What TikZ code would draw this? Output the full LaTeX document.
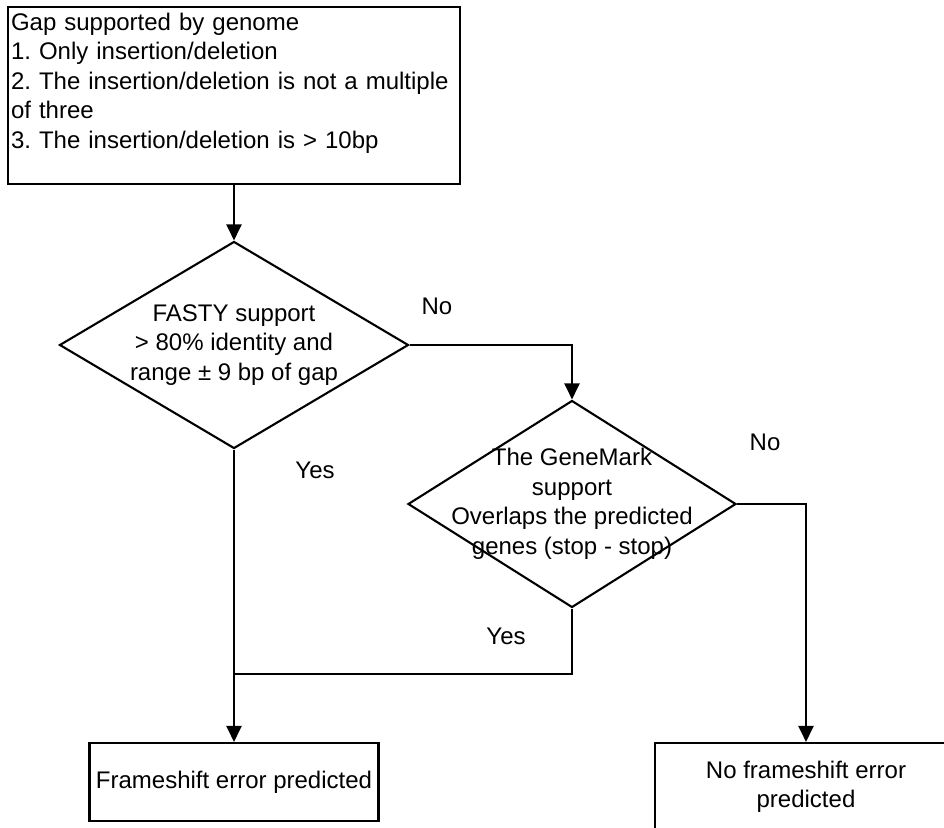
\documentclass[tikz,border=0pt]{standalone}
\usepackage{fontspec}
\setmainfont{Liberation Sans}
\frenchspacing
\usetikzlibrary{shapes.geometric,arrows.meta}
\tikzset{
	txt/.style={font=\fontsize{24}{29.5}\selectfont},
	block/.style={draw,txt,line width=2.1pt,inner sep=2pt},
	decision/.style={draw,diamond,line width=2.1pt,inner sep=0pt},
	link/.style={line width=2.1pt},
	arrow/.style={link,-{Triangle[length=16pt,width=15pt]}}
}
\begin{document}
\begin{tikzpicture}[x=1pt,y=-1pt]
	\useasboundingbox (0,0) rectangle (944,827);
	\clip (0,0) rectangle (944,827);
	% Boxes
	\node[block,minimum width=452pt,minimum height=177pt,text width=446pt,align=left] (gap) at (234,95.5) {Gap supported by genome\\1. Only insertion/deletion\\2. The insertion/deletion is not a multiple\\of three\\3. The insertion/deletion is > 10bp\\ \mbox{}};
	\node[block,minimum width=289pt,minimum height=78pt] (fs) at (234,782) {Frameshift error predicted};
	\node[block,minimum width=302pt,minimum height=88pt,align=center] (nofs) at (806,787) {No frameshift error\\predicted};
	% Decisions
	\node[decision,minimum width=349pt,minimum height=207pt] (fasty) at (234,345) {};
	\node[txt,align=center] (fastytxt) at (fasty) {FASTY support\\> 80\% identity and\\range ± 9 bp of gap};
	\node[decision,minimum width=328pt,minimum height=207pt] (genemark) at (572,504) {};
	\node[txt,align=center] (genemarktxt) at (genemark) {The GeneMark\\support\\Overlaps the predicted\\genes (stop - stop)};
	% Connectors
	\coordinate (join) at (234,674);
	\draw[arrow] (gap.south) -- (fasty.north);
	\draw[arrow] (fasty.east) -| (genemark.north);
	\draw[arrow] (genemark.east) -| (nofs.north);
	\draw[arrow] (fasty.south) -- (fs.north);
	\draw[link] (genemark.south) |- (join);
	% Labels
	\node[txt] (no1) at (437,306) {No};
	\node[txt] (no2) at (765,442) {No};
	\node[txt] (yes1) at (315,470) {Yes};
	\node[txt] (yes2) at (506,636) {Yes};
\end{tikzpicture}
\end{document}
